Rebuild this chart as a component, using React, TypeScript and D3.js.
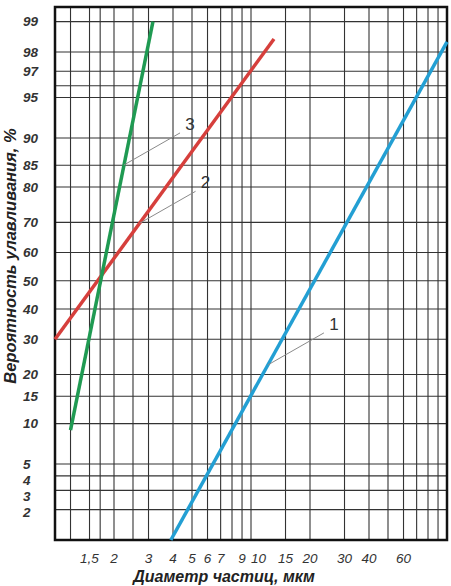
import React from "react";
import * as d3 from "d3";

// ---------- data ----------
const xGrid = [1.2, 1.5, 1.7, 2, 2.5, 3, 4, 5, 6, 7, 8, 9, 10, 15, 20, 30, 40, 50, 60, 70, 80, 90];
const xTickValues = [1.5, 2, 3, 4, 5, 6, 7, 9, 10, 15, 20, 30, 40, 60];
const xTickLabels = ["1,5", "2", "3", "4", "5", "6", "7", "9", "10", "15", "20", "30", "40", "60"];
const yTicks = [99, 98, 97, 96, 95, 90, 85, 80, 70, 60, 50, 40, 30, 20, 15, 10, 5, 4, 3, 2];
const yTickLabels = ["99", "98", "97", "", "95", "90", "85", "80", "70", "60", "50", "40", "30", "20", "15", "10", "5", "4", "3", "2"];

// series: [diameter µm, capture probability %]
const series1 = [[3.9, 1], [100, 98.4]];
const series2 = [[1, 30], [13.1, 98.5]];
const series3 = [[1.2, 9], [3.16, 99]];
const seriesNames = ["1", "2", "3"];
const seriesColors = ["#239fd3", "#d63f3c", "#1f9a52"];
// leader-line anchor diameters on each series
const anchorD = [12.2, 2.7, 2.25];

const xTitle = "Диаметр частиц, мкм";
const yTitle = "Вероятность улавливания, %";

// ---------- probit helper (inverse normal CDF, Acklam) ----------
function invNorm(p: number): number {
  const a = [-3.969683028665376e1, 2.209460984245205e2, -2.759285104469687e2, 1.38357751867269e2, -3.066479806614716e1, 2.506628277459239];
  const b = [-5.447609879822406e1, 1.615858368580409e2, -1.556989798598866e2, 6.680131188771972e1, -1.328068155288572e1];
  const c = [-7.784894002430293e-3, -3.223964580411365e-1, -2.400758277161838, -2.549732539343734, 4.374664141464968, 2.938163982698783];
  const d = [7.784695709041462e-3, 3.224671290700398e-1, 2.445134137142996, 3.754408661907416];
  const pl = 0.02425;
  if (p < pl) {
    const q = Math.sqrt(-2 * Math.log(p));
    return (((((c[0] * q + c[1]) * q + c[2]) * q + c[3]) * q + c[4]) * q + c[5]) / ((((d[0] * q + d[1]) * q + d[2]) * q + d[3]) * q + 1);
  }
  if (p > 1 - pl) {
    const q = Math.sqrt(-2 * Math.log(1 - p));
    return -(((((c[0] * q + c[1]) * q + c[2]) * q + c[3]) * q + c[4]) * q + c[5]) / ((((d[0] * q + d[1]) * q + d[2]) * q + d[3]) * q + 1);
  }
  const q = p - 0.5;
  const r = q * q;
  return ((((((a[0] * r + a[1]) * r + a[2]) * r + a[3]) * r + a[4]) * r + a[5]) * q) / (((((b[0] * r + b[1]) * r + b[2]) * r + b[3]) * r + b[4]) * r + 1);
}
const probit = (pct: number) => invNorm(pct / 100);

export default function App() {
  const W = 451, H = 586;
  const left = 55, right = 447, top = 7, bottom = 540;

  const x = d3.scaleLog().domain([1, 100]).range([left, right]);
  const yLin = d3.scaleLinear().domain([probit(1), probit(99.3)]).range([bottom, top]);
  const y = (p: number) => yLin(probit(p));

  const line = d3.line<number[]>().x((dd) => x(dd[0])).y((dd) => y(dd[1]));
  const allSeries = [series1, series2, series3];

  const pointOn = (s: number[][], dv: number) => {
    const [a, b] = s;
    const t = (Math.log(dv) - Math.log(a[0])) / (Math.log(b[0]) - Math.log(a[0]));
    const py = probit(a[1]) + t * (probit(b[1]) - probit(a[1]));
    return [x(dv), yLin(py)];
  };

  // y label positions with simple collision avoidance (top -> bottom)
  const yLabelFs = 13.5;
  const yLabelPos: number[] = [];
  let prevY = -Infinity;
  yTicks.forEach((v, i) => {
    if (!yTickLabels[i]) { yLabelPos.push(NaN); return; }
    const p = Math.max(y(v), prevY + 16);
    yLabelPos.push(p);
    prevY = p;
  });

  // x label positions with collision avoidance (left -> right)
  const xLabelFs = 13.5;
  const xLabelPos: number[] = [];
  let prevRight = -Infinity;
  xTickValues.forEach((v, i) => {
    const w = xTickLabels[i].length * xLabelFs * 0.52;
    const cx = Math.max(x(v), prevRight + 6 + w / 2);
    xLabelPos.push(cx);
    prevRight = cx + w / 2;
  });

  const font = "'Liberation Sans', Arial, sans-serif";

  return (
    <svg width={W} height={H} style={{ position: "absolute", left: 0, top: 0, background: "#fff" }} fontFamily={font}>
      <rect x={0} y={0} width={W} height={H} fill="#fff" />
      {/* vertical grid */}
      {xGrid.map((v) => (
        <line key={"vx" + v} x1={x(v)} x2={x(v)} y1={top} y2={bottom} stroke="#333" strokeWidth={1.1} />
      ))}
      {/* horizontal grid */}
      {yTicks.map((v) => (
        <line key={"hy" + v} x1={left} x2={right} y1={y(v)} y2={y(v)} stroke="#333" strokeWidth={1.1} />
      ))}
      {/* border */}
      <rect x={left} y={top} width={right - left} height={bottom - top} fill="none" stroke="#111" strokeWidth={2.5} />

      {/* series lines */}
      {allSeries.map((s, i) => (
        <path key={"s" + i} d={line(s) || ""} fill="none" stroke={seriesColors[i]} strokeWidth={3.5} />
      ))}

      {/* leader lines and labels */}
      {allSeries.map((s, i) => {
        const [ax, ay] = pointOn(s, anchorD[i]);
        return (
          <g key={"ann" + i}>
            <line x1={ax} y1={ay} x2={ax + 56} y2={ay - 32} stroke="#8a8a8a" strokeWidth={1} />
            <text x={ax + 66} y={ay - 35} fontSize={17} fill="#333" textAnchor="middle">
              {seriesNames[i]}
            </text>
          </g>
        );
      })}

      {/* y tick labels */}
      {yTicks.map((v, i) =>
        yTickLabels[i] ? (
          <text key={"yl" + v} x={23} y={yLabelPos[i]} dy="0.35em" fontSize={yLabelFs} fontWeight="bold" fontStyle="italic" fill="#333">
            {yTickLabels[i]}
          </text>
        ) : null
      )}

      {/* x tick labels */}
      {xTickValues.map((v, i) => (
        <text key={"xl" + v} x={xLabelPos[i]} y={563} fontSize={xLabelFs} fontStyle="italic" fill="#333" textAnchor="middle">
          {xTickLabels[i]}
        </text>
      ))}

      {/* axis titles */}
      <text x={224} y={582} fontSize={16} fontWeight="bold" fontStyle="italic" fill="#222" textAnchor="middle">
        {xTitle}
      </text>
      <text transform={`translate(15.5, 256) rotate(-90)`} fontSize={16.5} fontWeight="bold" fontStyle="italic" fill="#222" textAnchor="middle">
        {yTitle}
      </text>
    </svg>
  );
}
